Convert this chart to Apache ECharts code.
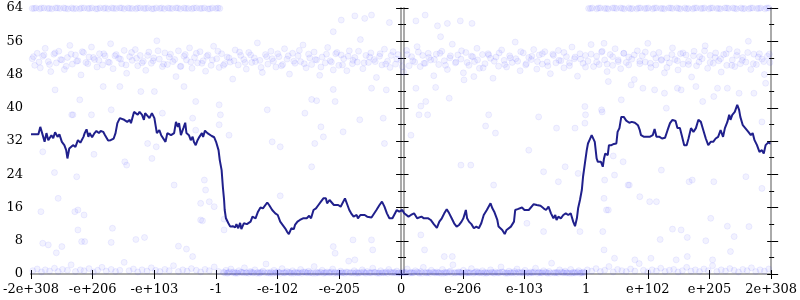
<!DOCTYPE html>
<html><head><meta charset="utf-8">
<script src="https://cdn.jsdelivr.net/npm/echarts@6/dist/echarts.min.js"></script>
<style>html,body{margin:0;padding:0;background:#fff}#c{width:800px;height:300px}</style>
</head><body><div id="c"></div><script>
// x positions are in "tick units" x100: each labelled tick is 100 apart
const xTickValues = [-600,-500,-400,-300,-200,-100,0,100,200,300,400,500,600];
const xTickLabels = ['-2e+308','-e+206','-e+103','-1','-e-102','-e-205','0','e-206','e-103','1','e+102','e+205','2e+308'];
const yTicks = [0,8,16,24,32,40,48,56,64];

const trendLine = [
[-600,33.6],[-588,33.6],[-585,35.4],[-582,33.9],[-578,31.8],[-575,33.9],[-572,32.2],[-567,33.4],[-564,32.7],[-561,34.1],
[-557,33.0],[-554,33.6],[-550,31.8],[-546,31.0],[-543,29.8],[-541,27.8],[-538,30.2],[-535,29.8],[-532,31.0],[-528,30.6],
[-524,32.2],[-520,31.6],[-515,33.0],[-513,33.9],[-510,34.8],[-507,33.0],[-505,33.9],[-501,32.9],[-497,33.9],[-494,34.4],
[-490,33.9],[-487,34.4],[-483,34.2],[-480,33.4],[-475,32.1],[-471,32.2],[-466,32.6],[-463,33.9],[-460,36.3],[-456,37.5],
[-454,37.8],[-449,37.1],[-447,37.5],[-444,36.6],[-440,37.1],[-438,36.3],[-433,39.0],[-430,38.8],[-427,38.3],[-424,39.0],
[-420,38.3],[-417,37.1],[-415,38.7],[-412,39.0],[-408,37.5],[-404,38.7],[-400,37.5],[-396,33.9],[-392,34.6],[-389,33.4],
[-387,33.0],[-382,31.8],[-379,33.9],[-373,33.4],[-368,33.9],[-365,36.6],[-362,35.4],[-360,36.3],[-357,33.4],[-353,35.1],
[-350,36.4],[-348,33.9],[-344,33.4],[-341,32.2],[-338,33.0],[-336,31.8],[-333,31.0],[-330,32.2],[-327,33.0],[-323,33.9],
[-321,33.0],[-318,34.5],[-314,33.9],[-311,34.2],[-307,33.2],[-303,32.9],[-300,31.8],[-296,29.8],[-294,27.4],[-291,25.0],
[-289,21.0],[-287,17.8],[-286,15.4],[-284,13.4],[-280,12.2],[-277,11.4],[-273,11.5],[-269,11.2],[-267,12.0],[-264,11.0],
[-261,12.3],[-259,10.8],[-255,12.2],[-250,12.0],[-244,12.6],[-241,13.8],[-236,13.4],[-232,15.0],[-228,16.0],[-224,15.8],
[-221,16.2],[-217,17.2],[-214,16.6],[-209,15.4],[-204,14.6],[-200,14.2],[-196,12.6],[-193,12.2],[-188,11.0],[-185,10.2],
[-182,9.6],[-178,11.0],[-174,10.8],[-172,11.8],[-168,12.6],[-164,13.0],[-159,13.4],[-156,13.8],[-153,13.4],[-149,14.0],
[-146,13.4],[-142,15.4],[-138,15.8],[-134,16.6],[-130,17.4],[-126,18.2],[-122,18.2],[-120,17.0],[-116,17.8],[-113,17.4],
[-109,16.6],[-106,16.2],[-102,16.6],[-98,16.2],[-95,16.6],[-91,18.2],[-87,16.6],[-84,15.4],[-81,14.6],[-77,13.8],
[-72,14.2],[-70,13.4],[-66,14.2],[-63,13.8],[-59,14.2],[-55,13.8],[-52,14.2],[-48,13.6],[-45,13.8],[-40,15.4],
[-35,16.6],[-31,17.4],[-27,16.2],[-23,14.6],[-19,13.4],[-14,13.4],[-11,13.8],[-7,15.4],[-3,15.0],[2,15.4],
[5,14.6],[8,15.0],[12,13.8],[16,14.2],[21,14.6],[26,13.4],[29,13.0],[33,13.8],[37,13.4],[40,13.8],
[44,13.4],[48,13.0],[53,12.0],[58,11.1],[62,12.6],[66,13.4],[70,14.6],[74,15.6],[78,14.6],[82,13.4],
[86,12.2],[90,11.4],[94,11.8],[98,12.6],[101,13.4],[105,15.4],[107,13.4],[110,12.6],[114,12.0],[118,11.0],
[122,11.4],[126,11.0],[130,12.2],[134,14.2],[139,15.4],[142,15.8],[145,17.0],[148,15.8],[151,15.0],[156,13.0],
[158,11.4],[161,11.8],[164,10.6],[168,9.6],[171,10.6],[174,11.0],[178,11.4],[183,12.6],[185,15.4],[189,15.6],
[192,15.4],[196,16.0],[200,15.4],[203,15.8],[207,15.4],[209,15.8],[215,16.8],[220,16.6],[226,16.4],[231,15.8],
[235,15.4],[239,16.2],[243,14.6],[247,13.4],[250,14.2],[252,13.0],[255,13.8],[259,13.4],[263,14.2],[267,14.6],
[271,14.2],[275,14.6],[279,12.6],[282,11.5],[285,13.4],[287,15.8],[290,17.8],[293,20.2],[295,23.4],[298,26.6],
[301,29.8],[303,31.4],[306,32.4],[309,33.4],[311,33.4],[314,31.8],[317,27.8],[319,27.0],[324,27.0],[327,25.8],
[329,27.8],[331,29.0],[335,28.6],[337,31.0],[341,31.0],[345,31.3],[349,31.4],[351,34.2],[354,35.1],[357,37.8],
[361,37.8],[365,36.9],[370,36.4],[374,36.6],[379,36.4],[384,35.8],[387,34.6],[389,33.4],[394,33.0],[397,32.6],
[403,33.0],[408,33.4],[411,34.9],[414,33.0],[419,33.0],[423,32.6],[428,32.8],[432,34.6],[436,36.3],[440,37.1],
[445,36.8],[448,35.1],[452,35.1],[455,33.4],[459,31.0],[463,31.0],[466,32.6],[470,35.1],[474,34.2],[478,35.1],
[482,37.1],[486,36.6],[490,34.6],[494,32.6],[498,31.0],[502,31.8],[506,31.8],[510,32.6],[514,33.0],[518,34.6],
[522,33.0],[525,35.1],[529,36.6],[532,38.3],[534,37.1],[537,38.3],[541,39.0],[545,40.7],[548,39.5],[550,37.8],
[554,35.8],[558,35.1],[563,34.2],[567,33.4],[570,33.9],[573,32.2],[577,31.0],[581,29.4],[585,29.8],[588,29.0],
[591,31.0],[595,31.6],[599,31.4],[600,31.4]
];

const band64 = [
[-598,63.9],[-592,64],[-586,63.8],[-579,64],[-573,63.9],[-566,63.8],[-560,64],[-553,63.9],[-547,64],[-540,63.8],
[-534,64],[-527,63.9],[-521,63.8],[-514,64],[-508,63.9],[-501,64],[-495,63.8],[-488,64],[-482,63.9],[-475,63.8],
[-469,64],[-462,63.9],[-456,64],[-449,63.8],[-443,64],[-436,63.9],[-430,63.8],[-423,64],[-417,63.9],[-410,64],
[-404,63.8],[-397,64],[-391,63.9],[-384,63.8],[-378,64],[-371,63.9],[-365,64],[-358,63.8],[-352,64],[-345,63.9],
[-339,63.8],[-332,64],[-326,63.9],[-319,64],[-313,63.8],[-306,64],[-300,63.9],[-294,63.9],
[304,63.9],[310,64],[317,63.8],[323,64],[330,63.9],[336,63.8],[343,64],[349,63.9],[356,64],[362,63.8],
[369,64],[375,63.9],[382,63.8],[388,64],[395,63.9],[401,64],[408,63.8],[414,64],[421,63.9],[427,63.8],
[434,64],[440,63.9],[447,64],[453,63.8],[460,64],[466,63.9],[473,63.8],[479,64],[486,63.9],[492,64],
[499,63.8],[505,64],[512,63.9],[518,63.8],[525,64],[531,63.9],[538,64],[544,63.8],[551,64],[557,63.9],
[564,63.8],[570,64],[577,63.9],[583,64],[590,63.8],[596,64]
];
const band64Extra = [
[-595,63.9],[-583,64],[-570,63.9],[-557,64],[-544,63.9],[-531,63.8],[-518,64],[-505,63.9],[-492,63.8],[-479,64],
[-466,63.9],[-453,64],[-440,63.9],[-427,64],[-414,63.9],[-401,63.8],[-388,64],[-375,63.9],[-362,64],[-349,63.9],
[-336,64],[-323,63.9],[-310,63.8],[-297,64],
[307,63.9],[320,64],[333,63.9],[346,64],[359,63.9],[372,63.8],[385,64],[398,63.9],[411,64],[424,63.9],
[437,64],[450,63.9],[463,63.8],[476,64],[489,63.9],[502,64],[515,63.9],[528,64],[541,63.9],[554,63.8],
[567,64],[580,63.9],[593,64]
];

const band52 = [
[-598,51.8],[-594,50.2],[-590,53.1],[-585,49.6],[-581,52.4],[-577,54.3],[-572,51.1],[-568,48.7],[-563,52.9],[-559,50.8],
[-555,53.6],[-550,51.5],[-546,49.2],[-541,52.1],[-537,55.0],[-533,50.5],[-528,52.7],[-524,51.3],[-519,47.9],[-515,53.3],
[-511,50.9],[-506,52.2],[-502,54.6],[-497,51.6],[-493,49.8],[-489,53.0],[-484,50.3],[-480,52.5],[-475,51.0],[-471,55.4],
[-467,49.4],[-462,52.8],[-458,51.9],[-453,50.6],[-449,53.8],[-445,48.3],[-440,52.3],[-436,51.4],[-431,54.0],[-427,50.1],
[-423,52.6],[-418,51.2],[-414,49.0],[-409,53.4],[-405,50.7],[-401,52.0],[-396,56.1],[-392,51.7],[-387,49.9],[-383,53.2],
[-379,50.4],[-374,52.9],[-370,51.1],[-365,47.5],[-361,53.7],[-357,50.0],[-352,52.4],[-348,51.5],[-343,54.4],[-339,49.5],
[-335,52.1],[-330,50.8],[-326,53.5],[-321,51.3],[-317,48.8],[-313,52.7],[-308,50.2],[-304,54.8],[-299,51.8],[-295,49.7],
[-291,53.0],[-286,50.6],[-282,52.2],[-277,51.0],[-273,46.9],[-269,53.9],[-264,50.3],[-260,52.6],[-255,51.6],[-251,49.3],
[-247,53.3],[-242,50.9],[-238,52.0],[-233,55.6],[-229,51.4],[-225,48.5],[-220,52.8],[-216,50.5],[-211,53.6],[-207,51.2],
[-203,49.8],[-198,52.3],[-194,50.1],[-189,54.2],[-185,51.7],[-181,48.1],[-176,53.1],[-172,50.7],[-167,52.5],[-163,51.1],
[-159,55.1],[-154,49.6],[-150,52.9],[-145,50.4],[-141,53.4],[-137,51.5],[-132,47.8],[-128,52.2],[-123,50.8],[-119,54.5],
[-115,51.3],[-110,49.1],[-106,53.0],[-101,50.2],[-97,52.7],[-93,51.8],[-88,48.9],[-84,53.7],[-79,50.6],[-75,52.1],
[-71,51.0],[-66,56.4],[-62,49.4],[-57,52.6],[-53,50.9],[-49,53.2],[-44,51.6],[-40,47.3],[-35,52.4],[-31,50.3],
[-27,54.1],[-22,51.2],[-18,49.7],[-13,53.5],[-9,50.5],[-5,52.8],[0,51.4],[4,48.6],[9,53.8],[13,50.1],
[17,52.3],[22,51.0],[26,54.7],[31,49.9],[35,52.6],[39,50.7],[44,53.1],[48,51.5],[53,47.7],[57,52.9],
[61,50.4],[66,53.6],[70,51.3],[75,49.2],[79,52.0],[83,55.3],[88,50.8],[92,52.7],[97,51.7],[101,48.4],
[105,53.3],[110,50.2],[114,52.4],[119,51.1],[123,54.3],[127,49.5],[132,52.8],[136,50.6],[141,53.0],[145,51.9],
[149,47.1],[154,52.2],[158,50.0],[163,53.9],[167,51.4],[171,49.8],[176,52.5],[180,50.9],[185,55.8],[189,51.2],
[193,48.9],[198,53.2],[202,50.3],[207,52.1],[211,51.6],[215,54.0],[220,49.3],[224,52.7],[229,50.5],[233,53.5],
[237,51.0],[242,48.2],[246,52.9],[251,50.8],[255,53.8],[259,51.3],[264,49.6],[268,52.3],[273,50.1],[277,54.6],
[281,51.8],[286,47.6],[290,53.0],[295,50.7],[299,52.6],[303,51.2],[308,55.2],[312,49.9],[317,52.4],[321,50.4],
[325,53.4],[330,51.5],[334,48.7],[339,52.8],[343,50.2],[347,54.2],[352,51.1],[356,49.4],[361,53.1],[365,50.9],
[369,52.2],[374,51.7],[378,46.8],[383,53.7],[387,50.6],[391,52.5],[396,51.0],[400,55.5],[405,49.7],[409,52.9],
[413,50.3],[418,53.3],[422,51.4],[427,48.4],[431,52.0],[435,50.8],[440,54.4],[444,51.6],[449,49.1],[453,53.0],
[457,50.5],[462,52.7],[466,51.2],[471,47.4],[475,53.6],[479,50.1],[484,52.3],[488,51.8],[493,54.9],[497,49.5],
[501,52.6],[506,50.7],[510,53.2],[515,51.3],[519,48.6],[523,52.8],[528,50.2],[532,54.1],[537,51.5],[541,49.9],
[545,53.5],[550,50.6],[554,52.1],[559,51.0],[563,56.0],[567,49.2],[572,52.9],[576,50.4],[581,53.0],[585,51.7],
[589,48.0],[594,52.4],[598,50.9]
];
const band52Core = [
[-596,52.3],[-587,51.0],[-579,52.7],[-570,50.4],[-561,53.2],[-552,51.6],[-543,50.0],[-535,52.9],[-526,51.2],[-517,53.5],
[-508,50.6],[-499,52.1],[-490,51.4],[-482,53.0],[-473,50.9],[-464,52.5],[-455,51.7],[-446,50.3],[-437,53.3],[-429,51.9],
[-420,50.8],[-411,52.6],[-402,51.3],[-394,53.7],[-385,50.5],[-376,52.2],[-367,51.6],[-358,49.9],[-350,52.8],[-341,51.0],
[-332,53.1],[-323,50.7],[-315,52.4],[-306,51.5],[-297,53.6],[-288,50.2],[-279,52.0],[-271,51.3],[-262,53.4],[-253,50.9],
[-244,52.7],[-236,51.1],[-227,49.7],[-218,52.3],[-209,51.8],[-200,53.0],[-192,50.4],[-183,52.5],[-174,51.2],[-165,53.8],
[-157,50.6],[-148,52.0],[-139,51.6],[-130,49.8],[-121,52.9],[-113,51.0],[-104,53.3],[-95,50.3],[-86,52.4],[-78,51.4],
[-69,53.6],[-60,50.8],[-51,52.2],[-42,51.1],[-34,53.0],[-25,50.5],[-16,52.6],[-7,51.7],[2,49.9],[10,52.8],
[19,51.3],[28,53.4],[37,50.7],[45,52.1],[54,51.6],[63,53.1],[72,50.2],[80,52.5],[89,51.0],[98,53.7],
[107,50.9],[116,52.3],[124,51.5],[133,49.6],[142,52.7],[151,51.2],[159,53.2],[168,50.4],[177,52.0],[186,51.8],
[194,53.5],[203,50.6],[212,52.4],[221,51.1],[229,53.0],[238,50.1],[247,52.6],[256,51.4],[264,53.3],[273,50.8],
[282,52.2],[291,51.7],[299,49.8],[308,52.9],[317,51.0],[326,53.6],[334,50.5],[343,52.3],[352,51.5],[361,53.1],
[369,50.3],[378,52.7],[387,51.2],[396,53.4],[404,50.7],[413,52.0],[422,51.6],[431,49.7],[439,52.8],[448,51.3],
[457,53.2],[466,50.4],[474,52.5],[483,51.0],[492,53.7],[501,50.9],[509,52.1],[518,51.8],[527,53.0],[536,50.2],
[544,52.6],[553,51.4],[562,53.3],[571,50.6],[579,52.2],[588,51.1],[597,52.9]
];

const bandLow = [
[-597,0.8],[-590,1.2],[-583,0.5],[-577,1.0],[-570,0.7],[-562,1.4],[-556,0.6],[-549,1.1],[-541,0.9],[-535,2.2],
[-528,0.6],[-520,1.0],[-514,0.8],[-506,1.3],[-499,0.5],[-492,0.9],[-485,1.6],[-478,0.7],[-470,1.1],[-463,0.6],
[-456,0.9],[-449,2.8],[-441,0.8],[-434,1.2],[-427,0.5],[-420,1.0],[-412,0.7],[-405,1.5],[-398,0.9],[-391,0.6],
[-383,1.1],[-376,0.8],[-369,2.0],[-361,0.6],[-354,1.0],[-347,0.7],[-340,1.3],[-332,0.9],[-325,0.5],[-318,1.1],
[-311,0.8],[-303,1.7],[-296,0.6],
[-288,0.4],[-284,0.9],[-280,0.3],[-276,1.2],[-271,0.5],[-267,0.3],[-263,0.8],[-258,0.4],[-254,1.5],[-250,0.3],
[-245,0.6],[-241,0.3],[-237,1.0],[-232,0.4],[-228,0.3],[-224,0.7],[-219,2.4],[-215,0.3],[-211,0.5],[-206,0.9],
[-202,0.3],[-198,0.4],[-193,1.3],[-189,0.3],[-185,0.6],[-180,0.3],[-176,0.8],[-172,0.4],[-167,0.3],[-163,1.1],
[-159,0.5],[-154,0.3],[-150,0.7],[-146,0.3],[-141,1.8],[-137,0.4],[-133,0.3],[-128,0.9],[-124,0.3],[-120,0.5],
[-115,0.3],[-111,1.2],[-107,0.4],[-102,0.3],[-98,0.7],[-94,0.3],[-89,0.5],[-85,3.1],[-81,0.3],[-76,0.8],
[-72,0.4],[-68,0.3],[-63,1.0],[-59,0.3],[-55,0.6],[-50,0.3],[-46,1.4],[-42,0.4],[-37,0.3],[-33,0.8],
[-29,0.3],[-24,0.5],[-20,1.1],[-16,0.3],[-11,0.4],[-7,0.7],[-3,0.3],[2,0.5],[6,0.3],[10,1.2],
[15,0.4],[19,0.3],[23,0.8],[28,0.3],[32,0.6],[36,1.6],[41,0.3],[45,0.4],[49,0.9],[54,0.3],
[58,0.5],[62,0.3],[67,1.1],[71,0.4],[75,0.3],[80,0.7],[84,2.2],[88,0.3],[93,0.5],[97,0.3],
[101,0.9],[106,0.4],[110,0.3],[114,1.3],[119,0.3],[123,0.6],[127,0.3],[132,0.8],[136,0.4],[140,0.3],
[145,1.0],[149,0.3],[153,0.5],[158,0.3],[162,1.7],[166,0.4],[171,0.3],[175,0.7],[179,0.3],[184,0.6],
[188,1.2],[192,0.3],[197,0.4],[201,0.9],[205,0.3],[210,0.5],[214,0.3],[218,1.4],[223,0.4],[227,0.3],
[231,0.8],[236,0.3],[240,0.6],[244,2.6],[249,0.3],[253,0.4],[257,1.0],[262,0.3],[266,0.7],[270,0.3],
[275,1.1],[279,0.4],[283,0.3],[288,0.8],[292,0.3],[296,0.5],
[302,1.0],[309,0.7],[316,1.3],[323,0.6],[330,0.9],[337,1.8],[344,0.5],[351,1.1],[358,0.8],[365,0.6],
[372,1.2],[379,0.7],[386,2.5],[393,0.9],[400,0.5],[407,1.0],[414,0.7],[421,1.4],[428,0.6],[435,0.9],
[442,1.1],[449,0.5],[456,0.8],[463,1.6],[470,0.7],[477,1.0],[484,0.6],[491,1.2],[498,0.8],[505,2.0],
[512,0.6],[519,1.0],[526,0.7],[533,1.3],[540,0.9],[547,0.5],[554,1.1],[561,0.8],[568,1.5],[575,0.6],
[582,1.0],[589,0.7],[596,1.2]
];
const bandLowCore = [
[-286,0.3],[-278,0.5],[-269,0.2],[-260,0.4],[-252,0.3],[-243,0.5],[-234,0.2],[-226,0.4],[-217,0.3],[-208,0.2],
[-200,0.5],[-191,0.3],[-182,0.4],[-174,0.2],[-165,0.3],[-156,0.5],[-148,0.3],[-139,0.2],[-130,0.4],[-122,0.3],
[-113,0.5],[-104,0.2],[-96,0.3],[-87,0.4],[-78,0.3],[-70,0.2],[-61,0.5],[-52,0.3],[-44,0.4],[-35,0.2],
[-26,0.3],[-18,0.5],[-9,0.3],[0,0.2],[8,0.4],[17,0.3],[26,0.5],[34,0.2],[43,0.3],[52,0.4],
[60,0.3],[69,0.2],[78,0.5],[86,0.3],[95,0.4],[104,0.2],[112,0.3],[121,0.5],[130,0.3],[138,0.2],
[147,0.4],[156,0.3],[164,0.5],[173,0.2],[182,0.3],[190,0.4],[199,0.3],[208,0.2],[216,0.5],[225,0.3],
[234,0.4],[242,0.2],[251,0.3],[260,0.5],[268,0.3],[277,0.2],[286,0.4],[294,0.3],
[-282,0.2],[-273,0.3],[-265,0.2],[-256,0.3],[-247,0.2],[-239,0.3],[-230,0.2],[-221,0.3],[-212,0.2],[-204,0.3],
[-195,0.2],[-187,0.3],[-178,0.2],[-169,0.3],[-161,0.2],[-152,0.3],[-143,0.2],[-135,0.3],[-126,0.2],[-117,0.3],
[-109,0.2],[-100,0.3],[-91,0.2],[-83,0.3],[-74,0.2],[-65,0.3],[-57,0.2],[-48,0.3],[-39,0.2],[-31,0.3],
[-22,0.2],[-13,0.3],[-5,0.2],[4,0.3],[13,0.2],[21,0.3],[30,0.2],[39,0.3],[47,0.2],[56,0.3],
[65,0.2],[73,0.3],[82,0.2],[91,0.3],[99,0.2],[108,0.3],[117,0.2],[125,0.3],[134,0.2],[143,0.3],
[151,0.2],[160,0.3],[169,0.2],[177,0.3],[186,0.2],[195,0.3],[203,0.2],[212,0.3],[221,0.2],[229,0.3],
[238,0.2],[247,0.3],[255,0.2],[264,0.3],[273,0.2],[281,0.3],[290,0.2],[298,0.3]
];

const sparse = [
[-561,44.3],[-521,41.9],[-502,38.3],[-532,38.3],[-470,39.5],[-456,45.1],[-422,43.9],[-400,43.9],[-352,45.1],[-483,45.1],
[-338,37.5],[-333,34.6],[-411,31.4],[-534,38.3],[-581,29.4],[-562,24.4],[-526,23.4],[-448,27.0],[-445,26.2],[-404,27.8],
[-498,28.8],[-556,18.2],[-529,15.0],[-524,15.4],[-514,14.2],[-584,15.0],[-524,10.6],[-468,11.0],[-518,7.8],[-513,7.8],
[-470,7.6],[-430,8.3],[-416,8.8],[-581,7.4],[-572,7.0],[-559,5.1],[-550,6.6],[-361,6.7],[-348,6.0],[-338,4.2],
[-368,21.4],[-325,17.0],[-325,13.0],
[-110,58.3],[-75,62.1],[-59,61.5],[-48,62.3],[-19,60.5],[24,60.9],[39,62.3],[59,59.7],[75,60.3],[96,60.9],
[115,60.3],[-97,61.1],[64,57.1],[-145,42.0],[-137,41.7],[-107,41.5],[-110,44.4],[-48,44.7],[-24,44.3],[24,44.7],
[32,40.4],[40,41.5],[56,44.9],[78,42.3],[102,46.7],[118,47.5],[-156,38.7],[-29,37.5],[-67,37.1],[29,38.3],
[43,38.3],[142,38.3],[-130,35.4],[-94,34.2],[-126,33.0],[-140,31.4],[-27,31.4],[16,33.4],[137,35.6],[153,33.9],
[-145,25.8],[97,26.2],[113,26.2],[150,21.4],[-78,8.2],[-48,8.2],[-110,6.6],[-107,5.0],[-46,5.8],[32,9.4],
[38,5.8],[70,4.2],[83,4.2],[-75,3.4],
[325,39.5],[357,41.9],[430,39.9],[489,41.5],[373,45.5],[392,44.7],[411,44.3],[427,43.5],[448,44.7],[454,44.3],
[478,45.1],[507,42.7],[513,44.7],[529,44.7],[548,43.5],[572,43.5],[585,36.6],[591,45.9],[336,46.3],[329,55.5],
[344,28.4],[360,27.0],[422,25.0],[467,22.2],[472,22.6],[507,22.2],[559,23.4],[585,20.6],[370,21.4],[387,18.6],
[403,17.4],[414,17.4],[336,15.4],[502,13.4],[529,11.5],[564,11.4],[440,10.8],[454,10.6],[464,8.8],[494,8.0],
[540,9.0],[420,8.3],[327,10.2],[329,5.8],[534,5.4],[464,4.2],[405,3.8],[379,3.4],[346,3.8],[505,3.4],
[446,3.4],
[-333,41.5],[-295,40.7],[-293,38.3],[-295,35.9],[-387,38.7],[-279,33.4],[-319,22.6],[-317,20.2],[-311,17.4],[-303,16.2],
[-287,13.2],[-217,39.5],[-209,31.8],[-196,30.6],[-397,30.6],[-196,18.8],[-322,12.8],[-287,10.6],
[298,40.3],[299,38.3],[298,36.3],[223,37.8],[252,35.1],[282,35.1],[326,39.0],[207,29.8],[231,24.6],[266,25.8],
[287,24.2],[330,22.6],[346,23.8],[255,22.2],[368,21.4],[329,18.2],[333,15.4],[290,10.2],[204,12.2],[231,10.2]
];

const FONT = 'DejaVu Serif';
const AXC = '#aaaaaa';
const TICK = '#000000';
const chart = echarts.init(document.getElementById('c'), null, {renderer: 'canvas'});

function xLabel(v) {
  const i = xTickValues.indexOf(Math.round(v));
  return i >= 0 ? xTickLabels[i] : '';
}
const xBase = {type: 'value', min: xTickValues[0], max: xTickValues[xTickValues.length - 1], interval: 100, splitLine: {show: false}};
const yBase = {type: 'value', min: yTicks[0], max: yTicks[yTicks.length - 1], interval: 8, splitLine: {show: false}};

function yAx(pos, offset, inside, len, minorLen, withLine, withLabel) {
  return Object.assign({}, yBase, {
    position: pos, offset: offset,
    axisLine: {show: withLine, lineStyle: {color: AXC, width: 2}},
    axisTick: {show: true, inside: inside, length: len, lineStyle: {color: TICK, width: 1}},
    minorTick: {show: minorLen > 0, splitNumber: 2, length: minorLen, lineStyle: {color: TICK, width: 1}},
    axisLabel: withLabel ? {show: true, fontFamily: FONT, fontSize: 13, color: '#000', margin: 8} : {show: false}
  });
}

const scatterStyle = {color: 'rgba(70,70,255,0.09)', borderColor: 'rgba(70,70,255,0.13)', borderWidth: 0.8};
function scat(name, data) {
  return {name: name, type: 'scatter', data: data, symbolSize: 6, itemStyle: scatterStyle, silent: true, z: 2, clip: false};
}

chart.setOption({
  animation: false,
  backgroundColor: '#fff',
  grid: {left: 28, right: 27, top: 8, bottom: 26, containLabel: false},
  xAxis: [
    Object.assign({}, xBase, {position: 'bottom',
      axisLine: {show: true, lineStyle: {color: AXC, width: 2}},
      axisTick: {show: true, length: 5, lineStyle: {color: TICK, width: 1}},
      axisLabel: {show: true, formatter: xLabel, fontFamily: FONT, fontSize: 13, color: '#000', margin: 9, showMinLabel: true, showMaxLabel: true, hideOverlap: false}}),
    Object.assign({}, xBase, {position: 'bottom',
      axisLine: {show: false},
      axisTick: {show: true, inside: true, length: 4, lineStyle: {color: TICK, width: 1}},
      axisLabel: {show: false}}),
    Object.assign({}, xBase, {position: 'top',
      axisLine: {show: true, lineStyle: {color: AXC, width: 2}},
      axisTick: {show: false}, axisLabel: {show: false}})
  ],
  yAxis: [
    yAx('left', 0, false, 5, 3, true, true),
    yAx('left', 0, true, 2, 0, false, false),
    yAx('left', -372.5, false, 5, 2.5, true, false),
    yAx('left', -372.5, true, 5, 2.5, false, false),
    yAx('right', 0, false, 7, 3, true, false),
    yAx('right', 0, true, 4, 2, false, false)
  ],
  series: [
    scat('band64', band64),
    scat('band64Extra', band64Extra),
    scat('band52', band52),
    scat('band52Core', band52Core),
    scat('bandLow', bandLow),
    scat('bandLowCore', bandLowCore),
    scat('sparse', sparse),
    {name: 'trend', type: 'line', data: trendLine, symbol: 'none', z: 5,
     lineStyle: {color: '#20208c', width: 2}, silent: true}
  ]
});
</script></body></html>
